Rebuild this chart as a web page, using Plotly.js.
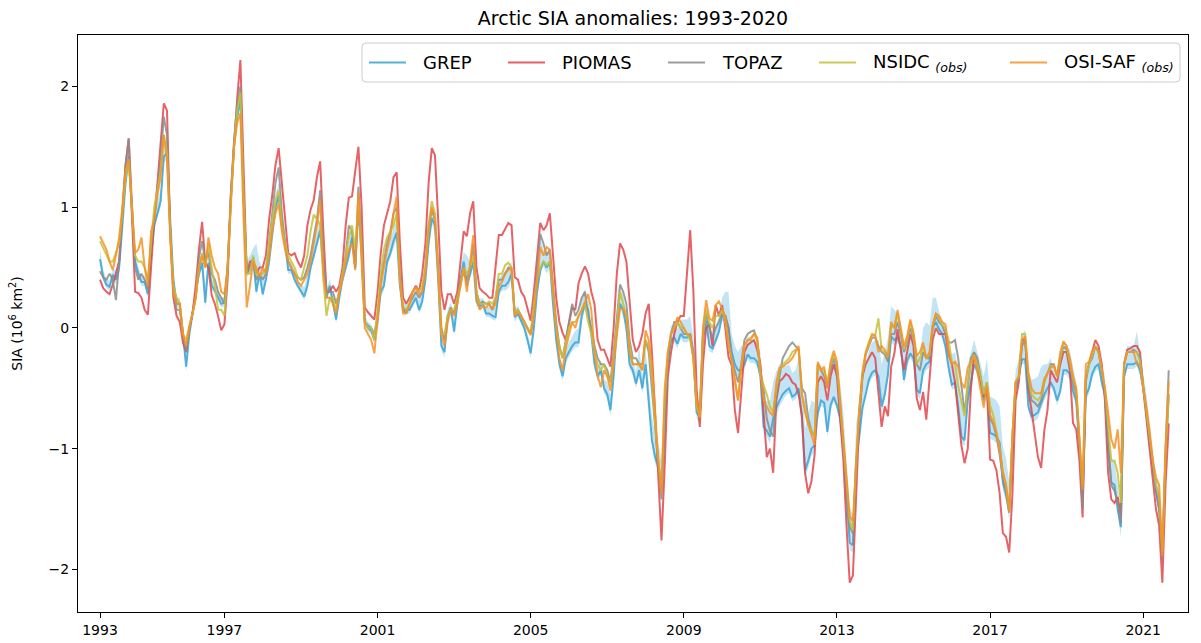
<!DOCTYPE html>
<html>
<head>
<meta charset="utf-8">
<script src="https://cdn.plot.ly/plotly-3.0.1.min.js"></script>
<style>
html,body{margin:0;padding:0;background:#fff;}
#chart{width:1201px;height:643px;}
</style>
</head>
<body>
<div id="chart"></div>
<script>
// Monthly anomalies (10^6 km^2), Jan 1993 .. Dec 2020, one row per year
const START_YEAR = 1993;
const END_YEAR = 2020;

const GREP = [
 .57,.42,.36,.34,.44,.40,.50,.85,1.20,1.42,.95,.55,
 .45,.38,.38,.28,.60,.85,.95,1.05,1.42,1.45,.90,.40,
 .20,.20,-.05,-.32,-.05,.12,.25,.45,.54,.21,.54,.35,
 .31,.25,.20,.21,.50,1.05,1.50,1.75,1.90,1.10,.45,.50,
 .58,.30,.45,.28,.40,.55,.80,1.00,1.10,.85,.70,.48,
 .48,.40,.35,.30,.26,.35,.50,.60,.70,.81,.50,.25,
 .35,.20,.07,.25,.40,.50,.60,.75,.50,1.00,.60,.05,
 .00,-.02,-.10,.05,.30,.35,.55,.62,.72,.79,.35,.15,
 .15,.15,.20,.25,.15,.22,.40,.70,.91,.85,.40,-.15,
 -.20,.10,.15,-.03,.20,.40,.55,.35,.45,.55,.22,.18,
 .20,.12,.12,.10,.09,.30,.35,.35,.38,.45,.09,.12,
 .06,.00,-.10,-.21,.00,.30,.48,.55,.50,.55,.20,-.10,
 -.30,-.40,-.25,-.20,-.15,-.12,-.12,.10,.20,.15,-.05,-.30,
 -.40,-.35,-.50,-.55,-.68,-.40,.00,.20,.15,.00,-.30,-.35,
 -.46,-.35,-.50,-.30,-.60,-.93,-1.07,-1.15,-1.35,-.80,-.30,-.10,
 -.08,-.13,-.05,-.08,-.08,-.05,-.20,-.70,-.74,-.10,.06,-.15,
 -.17,-.10,-.03,.10,.10,.00,-.20,-.30,-.35,-.35,-.30,-.22,
 -.25,-.25,-.28,-.40,-.82,-.85,-.90,-.75,-.66,-.60,-.55,-.52,
 -.50,-.57,-.55,-.50,-.73,-1.18,-1.10,-1.00,-.97,-.70,-.60,-.62,
 -.86,-.64,-.57,-.64,-.75,-1.00,-1.40,-1.78,-1.80,-1.10,-.90,-.66,
 -.55,-.43,-.37,-.35,-.40,-.65,-.55,-.38,-.07,-.10,-.08,-.15,
 -.43,-.27,-.21,-.25,-.51,-.54,-.35,-.30,-.28,.00,.05,-.01,
 -.05,-.15,-.33,-.47,-.45,-.65,-.90,-.93,-.60,-.45,-.30,-.35,
 -.45,-.60,-.50,-.87,-.88,-.90,-.95,-1.28,-1.38,-1.53,-1.00,-.51,
 -.40,-.26,-.26,-.65,-.73,-.72,-.70,-.62,-.55,-.50,-.45,-.50,
 -.60,-.52,-.35,-.35,-.38,-.52,-.60,-1.00,-1.40,-.56,-.50,-.38,
 -.32,-.30,-.45,-.55,-1.00,-1.28,-1.30,-1.50,-1.65,-.40,-.30,-.30,
 -.30,-.28,-.35,-.50,-.70,-.95,-1.15,-1.35,-1.50,-1.90,-1.10,-.55
];

// GREP ensemble spread: distance above / below the GREP mean
const GREP_SPREAD_UP = [
 .08,.06,.05,.05,.05,.08,.10,.10,.10,.08,.08,.06,
 .06,.05,.05,.05,.06,.08,.10,.10,.10,.10,.08,.06,
 .05,.05,.05,.05,.05,.06,.08,.08,.10,.15,.08,.06,
 .06,.05,.05,.05,.08,.10,.15,.10,.08,.08,.10,.10,
 .08,.40,.10,.20,.10,.10,.10,.10,.10,.10,.08,.08,
 .06,.06,.06,.06,.08,.10,.10,.10,.10,.10,.08,.06,
 .06,.06,.06,.06,.06,.08,.10,.10,.12,.10,.08,.06,
 .05,.05,.05,.05,.08,.10,.10,.10,.12,.10,.08,.06,
 .05,.05,.05,.06,.08,.10,.12,.12,.12,.10,.08,.06,
 .06,.06,.06,.10,.08,.10,.08,.25,.10,.10,.08,.06,
 .05,.05,.06,.06,.08,.10,.10,.12,.12,.10,.08,.06,
 .06,.06,.06,.06,.08,.10,.27,.10,.12,.10,.08,.06,
 .06,.08,.08,.08,.08,.10,.12,.15,.12,.10,.08,.06,
 .08,.08,.08,.10,.12,.12,.12,.12,.12,.12,.10,.08,
 .10,.20,.10,.12,.15,.20,.20,.20,.25,.20,.15,.12,
 .10,.12,.12,.15,.15,.15,.12,.12,.12,.15,.15,.12,
 .12,.12,.12,.15,.20,.30,.15,.15,.15,.20,.15,.15,
 .15,.15,.15,.20,.20,.25,.30,.30,.30,.30,.25,.20,
 .20,.20,.20,.25,.30,.35,.40,.40,.35,.35,.30,.25,
 .25,.30,.30,.30,.30,.30,.30,.30,.25,.30,.30,.25,
 .25,.25,.25,.25,.30,.35,.35,.30,.25,.25,.20,.20,
 .20,.20,.20,.25,.30,.30,.35,.35,.30,.25,.20,.15,
 .10,.15,.20,.25,.25,.30,.30,.30,.30,.25,.20,.15,
 .15,.20,.25,.30,.30,.30,.30,.30,.30,.25,.20,.15,
 .15,.20,.25,.30,.30,.30,.30,.30,.25,.20,.20,.15,
 .15,.20,.20,.20,.20,.20,.15,.15,.15,.20,.20,.15,
 .15,.15,.15,.15,.15,.20,.20,.20,.10,.15,.15,.15,
 .15,.25,.15,.15,.15,.15,.15,.15,.15,.15,.15,.15
];
const GREP_SPREAD_DN = [
 .03,.03,.03,.03,.03,.04,.04,.04,.05,.05,.04,.03,
 .03,.03,.03,.03,.04,.04,.04,.05,.05,.05,.04,.03,
 .03,.03,.03,.04,.03,.03,.04,.04,.05,.04,.04,.03,
 .03,.03,.03,.03,.04,.05,.05,.05,.05,.05,.04,.03,
 .03,.03,.03,.03,.04,.04,.04,.05,.05,.04,.04,.03,
 .03,.03,.03,.03,.03,.04,.04,.04,.05,.05,.04,.03,
 .03,.03,.03,.03,.03,.04,.04,.04,.05,.05,.04,.03,
 .03,.03,.03,.03,.04,.04,.04,.04,.05,.05,.04,.03,
 .03,.03,.03,.03,.03,.04,.04,.05,.05,.05,.04,.04,
 .04,.03,.03,.03,.03,.04,.04,.04,.05,.05,.04,.03,
 .03,.03,.03,.03,.03,.04,.04,.04,.05,.05,.04,.03,
 .03,.03,.03,.04,.04,.04,.04,.04,.05,.05,.04,.04,
 .04,.04,.04,.04,.04,.04,.04,.05,.05,.05,.04,.04,
 .04,.04,.04,.04,.05,.05,.05,.05,.05,.05,.04,.04,
 .04,.04,.04,.04,.05,.05,.05,.05,.06,.06,.05,.04,
 .04,.04,.04,.04,.04,.04,.05,.05,.06,.05,.04,.04,
 .04,.04,.04,.04,.04,.05,.05,.05,.06,.05,.04,.04,
 .04,.04,.04,.04,.05,.05,.06,.06,.06,.05,.05,.04,
 .04,.04,.04,.05,.05,.06,.06,.06,.06,.05,.05,.04,
 .04,.04,.04,.04,.05,.05,.06,.06,.06,.05,.05,.04,
 .04,.04,.04,.04,.05,.05,.05,.05,.05,.05,.04,.04,
 .04,.04,.04,.04,.05,.05,.05,.05,.05,.04,.04,.04,
 .04,.04,.04,.04,.05,.05,.05,.05,.05,.05,.04,.04,
 .04,.04,.04,.05,.05,.05,.05,.06,.06,.06,.05,.04,
 .04,.04,.04,.04,.05,.05,.05,.05,.05,.05,.04,.04,
 .04,.04,.04,.04,.05,.05,.05,.05,.06,.05,.04,.04,
 .04,.04,.04,.04,.05,.05,.05,.05,.08,.05,.04,.04,
 .04,.04,.04,.04,.05,.05,.05,.06,.06,.07,.05,.04
];

const PIOMAS = [
 .40,.33,.30,.28,.36,.45,.55,.95,1.35,1.57,1.00,.30,
 .29,.25,.15,.11,.50,.90,1.20,1.50,1.86,1.80,.80,.25,
 .10,.05,-.12,-.20,.00,.12,.35,.65,.88,.54,.50,.27,
 .20,.10,-.02,.03,.40,1.10,1.55,1.90,2.22,1.30,.45,.55,
 .55,.45,.50,.50,.60,.90,1.10,1.35,1.49,1.20,.92,.62,
 .60,.62,.55,.50,.60,.85,.98,1.06,1.25,1.38,.80,.30,
 .30,.35,.30,.35,.50,.85,1.08,1.09,1.30,1.50,1.00,.17,
 .13,.10,.07,.30,.62,.85,.95,1.05,1.25,1.29,.70,.25,
 .20,.25,.30,.35,.30,.45,.70,1.20,1.49,1.43,.90,.30,
 .15,.28,.28,.20,.30,.55,.80,.76,.95,1.05,.50,.33,
 .30,.28,.25,.25,.50,.77,.77,.82,.87,.85,.42,.40,
 .30,.26,.15,.06,.30,.60,.87,.81,.85,.95,.60,.25,
 .05,-.04,-.10,.05,.17,.15,.37,.45,.51,.45,.30,.20,
 -.10,-.18,-.18,-.25,-.32,.00,.45,.70,.65,.55,.20,-.10,
 -.20,-.15,-.05,.12,.20,-.20,-.70,-1.20,-1.76,-1.15,-.40,-.20,
 -.05,.05,.10,.10,.50,.81,.30,-.50,-.82,-.30,.00,.03,
 -.15,.19,.10,.19,.00,-.24,-.31,-.68,-.87,-.50,-.20,-.14,
 -.12,-.10,-.18,-.30,-.70,-1.07,-1.00,-1.20,-.60,-.44,-.42,-.38,
 -.40,-.45,-.47,-.55,-.73,-1.20,-1.37,-1.27,-1.05,-.45,-.40,-.45,
 -.60,-.40,-.30,-.40,-.75,-1.09,-1.64,-2.11,-2.05,-1.37,-.75,-.40,
 -.30,-.25,-.20,-.25,-.54,-.82,-.65,-.73,-.32,-.21,-.01,-.18,
 -.35,-.20,-.05,-.15,-.58,-.68,-.53,-.76,-.39,-.10,.00,-.05,
 -.05,-.05,-.22,-.30,-.45,-.72,-.97,-1.12,-1.00,-.50,-.21,-.30,
 -.45,-.57,-.50,-1.09,-1.10,-1.18,-1.37,-1.70,-1.73,-1.86,-1.38,-.60,
 -.45,-.10,-.10,-.51,-.68,-.90,-1.07,-1.16,-.85,-.68,-.35,-.40,
 -.45,-.30,-.20,-.20,-.35,-.79,-.84,-1.10,-1.57,-.40,-.30,-.19,
 -.10,-.15,-.30,-.60,-1.20,-1.42,-1.45,-1.40,-1.55,-.30,-.18,-.17,
 -.15,-.15,-.20,-.50,-.75,-1.05,-1.30,-1.50,-1.64,-2.11,-1.30,-.79
];

const TOPAZ = [
 .47,.42,.40,.45,.40,.23,.55,.95,1.35,1.57,1.05,.50,
 .40,.45,.40,.32,.70,.90,1.15,1.40,1.75,1.60,.80,.30,
 .15,.15,-.05,-.20,.00,.12,.25,.58,.72,.55,.63,.45,
 .40,.30,.25,.20,.50,1.10,1.55,1.85,2.00,1.10,.45,.50,
 .55,.40,.45,.40,.45,.70,.95,1.20,1.33,.95,.70,.55,
 .50,.45,.42,.40,.42,.50,.60,.75,.90,1.14,.60,.30,
 .30,.30,.20,.30,.45,.60,.85,.80,.50,1.17,.70,.05,
 .02,.00,-.05,.10,.40,.55,.70,.80,.95,1.00,.45,.15,
 .12,.20,.25,.30,.25,.30,.50,.85,.98,.90,.50,.00,
 -.10,.10,.17,.12,.25,.40,.45,.40,.50,.70,.30,.20,
 .22,.20,.20,.15,.25,.40,.40,.45,.50,.48,.12,.15,
 .10,.06,.00,-.05,.15,.50,.78,.70,.60,.65,.35,.05,
 -.15,-.25,-.10,.05,.20,.10,.15,.25,.30,.10,.00,-.15,
 -.25,-.30,-.30,-.35,-.45,-.20,.10,.36,.30,.20,-.10,-.25,
 -.25,-.30,-.30,-.10,-.20,-.50,-.80,-1.15,-1.42,-.80,-.25,-.05,
 .05,.05,.00,-.05,-.05,-.08,-.25,-.65,-.74,-.05,.12,.00,
 -.08,.00,.05,.12,.10,.00,-.26,-.35,-.45,-.30,-.10,-.05,
 -.03,-.02,-.10,-.35,-.50,-.75,-.85,-.90,-.55,-.40,-.25,-.20,
 -.15,-.12,-.15,-.18,-.50,-.54,-.75,-.85,-.90,-.30,-.35,-.40,
 -.50,-.35,-.25,-.35,-.65,-1.00,-1.35,-1.65,-1.70,-1.15,-.70,-.40,
 -.22,-.15,-.08,-.08,-.15,-.20,-.22,-.28,-.05,-.05,.05,-.05,
 -.20,-.12,.00,-.08,-.30,-.35,-.20,-.25,-.25,.00,.10,.05,
 .02,-.05,-.12,-.12,-.10,-.25,-.50,-.70,-.50,-.25,-.20,-.25,
 -.40,-.55,-.45,-.75,-.80,-.90,-1.05,-1.25,-1.35,-1.50,-.90,-.45,
 -.42,-.15,-.10,-.45,-.60,-.62,-.65,-.60,-.45,-.38,-.30,-.30,
 -.40,-.25,-.15,-.18,-.28,-.45,-.55,-.95,-1.50,-.45,-.30,-.25,
 -.15,-.20,-.35,-.55,-.90,-1.30,-1.35,-1.45,-1.62,-.30,-.20,-.20,
 -.18,-.20,-.25,-.50,-.70,-.90,-1.15,-1.35,-1.50,-1.90,-1.00,-.35
];

const NSIDC = [
 .72,.66,.60,.55,.55,.62,.70,.95,1.25,1.38,.98,.60,
 .55,.55,.50,.40,.70,1.00,1.15,1.30,1.60,1.45,.80,.35,
 .25,.20,-.05,-.10,.02,.12,.25,.50,.62,.50,.70,.50,
 .35,.15,.15,.10,.50,1.05,1.50,1.80,1.95,1.10,.45,.45,
 .60,.45,.45,.45,.50,.70,.90,1.05,1.14,.85,.70,.60,
 .55,.50,.42,.40,.50,.60,.80,.94,.90,.85,.40,.10,
 .25,.25,.15,.30,.45,.60,.75,.85,.65,1.05,.65,.05,
 .00,.00,-.10,.15,.45,.65,.75,.80,.85,.95,.40,.18,
 .15,.20,.30,.33,.30,.35,.50,.85,1.05,.95,.50,-.05,
 -.05,.10,.15,.15,.25,.35,.50,.45,.50,.60,.30,.20,
 .20,.20,.22,.20,.25,.45,.45,.52,.54,.50,.12,.15,
 .10,.05,.00,-.05,.20,.40,.50,.55,.52,.55,.30,.00,
 -.15,-.25,-.12,.00,.05,.05,.10,.15,.20,.05,-.05,-.20,
 -.30,-.35,-.30,-.40,-.45,-.25,.05,.30,.20,.10,-.15,-.30,
 -.30,-.30,-.35,-.10,-.15,-.40,-.80,-1.10,-1.30,-.60,-.20,-.05,
 .00,.05,.00,.00,-.05,-.10,-.25,-.65,-.74,-.05,.15,.05,
 .00,.10,.10,.15,.05,-.10,-.28,-.45,-.60,-.33,-.15,-.10,
 -.08,-.05,-.10,-.40,-.47,-.55,-.65,-.70,-.50,-.35,-.30,-.28,
 -.25,-.20,-.18,-.18,-.55,-.65,-.80,-.85,-.90,-.30,-.35,-.35,
 -.45,-.30,-.22,-.30,-.62,-.95,-1.30,-1.60,-1.68,-1.10,-.68,-.38,
 -.22,-.14,-.06,-.06,.08,-.18,-.20,-.24,.02,.00,.12,-.02,
 -.18,-.10,.05,-.06,-.30,-.25,-.15,-.25,-.22,.02,.12,.08,
 .03,.00,-.10,-.28,-.30,-.48,-.60,-.73,-.45,-.30,-.22,-.30,
 -.40,-.55,-.45,-.64,-.72,-.85,-1.00,-1.20,-1.30,-1.50,-.90,-.45,
 -.40,-.05,-.05,-.40,-.55,-.58,-.60,-.56,-.45,-.38,-.32,-.32,
 -.40,-.25,-.12,-.15,-.28,-.42,-.50,-.90,-1.30,-.40,-.30,-.22,
 -.15,-.20,-.35,-.50,-.80,-1.10,-1.10,-1.20,-1.45,-.30,-.20,-.20,
 -.20,-.20,-.28,-.50,-.70,-.90,-1.10,-1.30,-1.40,-1.85,-1.05,-.55
];

const OSISAF = [
 .76,.70,.65,.55,.48,.60,.75,1.00,1.30,1.40,1.00,.62,
 .65,.75,.50,.35,.80,.90,1.10,1.25,1.60,1.40,.75,.30,
 .20,.20,-.05,-.15,.00,.12,.25,.50,.60,.50,.75,.60,
 .50,.45,.30,.28,.50,1.05,1.50,1.70,1.78,.90,.17,.35,
 .55,.50,.42,.50,.45,.60,.80,.95,1.03,.80,.65,.55,
 .50,.45,.38,.35,.40,.45,.55,.70,.85,1.06,.45,.25,
 .25,.20,.12,.30,.40,.55,.65,.70,.48,1.12,.60,.00,
 -.05,-.10,-.21,.05,.35,.50,.65,.75,.95,1.09,.40,.12,
 .12,.20,.30,.33,.28,.30,.45,.80,1.00,.90,.50,-.05,
 -.15,.05,.15,.10,.20,.35,.50,.30,.55,.77,.25,.15,
 .18,.17,.20,.15,.20,.35,.38,.45,.48,.50,.10,.13,
 .10,.05,.00,-.06,.10,.40,.67,.60,.67,.65,.30,.00,
 -.25,-.35,-.17,-.05,.05,.00,.10,.15,.22,.28,.15,-.20,
 -.40,-.49,-.35,-.40,-.52,-.30,-.05,.16,.16,.10,-.20,-.30,
 -.30,-.30,-.35,-.02,-.10,-.30,-.70,-1.10,-1.37,-.50,-.20,-.05,
 .00,.09,.05,.00,-.05,-.05,-.25,-.60,-.74,.00,.23,.08,
 .06,.19,.22,.16,.10,-.14,-.26,-.42,-.60,-.33,-.14,-.10,
 -.10,-.05,-.08,-.35,-.60,-.65,-.70,-.73,-.45,-.33,-.32,-.30,
 -.28,-.25,-.20,-.15,-.55,-.70,-.80,-.88,-.97,-.28,-.35,-.32,
 -.50,-.28,-.19,-.28,-.60,-.95,-1.30,-1.56,-1.60,-1.10,-.68,-.36,
 -.20,-.12,-.05,-.06,-.20,-.15,-.18,-.24,.05,.00,.15,.00,
 -.15,-.07,.07,-.04,-.23,-.20,-.12,-.25,-.20,.02,.12,.10,
 .05,.03,-.20,-.30,-.28,-.32,-.45,-.50,-.33,-.28,-.24,-.36,
 -.50,-.66,-.48,-.72,-.78,-.87,-1.00,-1.19,-1.30,-1.53,-.90,-.45,
 -.40,-.10,-.07,-.37,-.50,-.54,-.54,-.54,-.42,-.38,-.33,-.31,
 -.40,-.20,-.11,-.15,-.25,-.40,-.50,-.92,-1.34,-.30,-.28,-.19,
 -.16,-.20,-.35,-.50,-.70,-.92,-1.00,-.84,-1.20,-.30,-.20,-.20,
 -.20,-.30,-.30,-.50,-.65,-.85,-1.10,-1.24,-1.30,-1.89,-1.00,-.44
];

const SERIES_NAMES = ['GREP', 'PIOMAS', 'TOPAZ', 'NSIDC <sub><i>(obs)</i></sub>', 'OSI-SAF <sub><i>(obs)</i></sub>'];
const SERIES_COLORS = ['#3aa3d4', '#e0464b', '#8c8c8c', '#c3c23a', '#f79226'];
const X_TICK_LABELS = ['1993', '1997', '2001', '2005', '2009', '2013', '2017', '2021'];
const Y_TICKS = [-2, -1, 0, 1, 2];

// ---- geometry helpers (pixel layout of the reference) ----
const W = 1201, H = 643;
const M = {l: 78, r: 13, t: 35, b: 31};
const PW = W - M.l - M.r, PH = H - M.t - M.b;
const px2paperX = p => (p - M.l) / PW;
const py2paperY = p => (H - M.b - p) / PH;

// time axis (decimal years)
const t = [];
for (let y = START_YEAR; y <= END_YEAR; y++) {
  for (let m = 0; m < 12; m++) t.push(y + m / 12);
}
// tick positions as they sit in the reference (first at series start, then every 4 years)
const xTickVals = [1993, 1996.25, 2000.25, 2004.25, 2008.25, 2012.25, 2016.25, 2020.25];

const bandLo = GREP.map((v, i) => v - GREP_SPREAD_DN[i]);
const bandHi = GREP.map((v, i) => v + GREP_SPREAD_UP[i]);

const traces = [
  {x: t, y: bandLo, type: 'scatter', mode: 'lines', line: {width: 0, color: 'rgba(0,0,0,0)'},
   showlegend: false, hoverinfo: 'skip'},
  {x: t, y: bandHi, type: 'scatter', mode: 'lines', line: {width: 0, color: 'rgba(0,0,0,0)'},
   fill: 'tonexty', fillcolor: 'rgba(120,195,230,0.45)', showlegend: false, hoverinfo: 'skip'}
];
[GREP, PIOMAS, TOPAZ, NSIDC, OSISAF].forEach((s, k) => {
  traces.push({
    x: t, y: s, type: 'scatter', mode: 'lines', name: SERIES_NAMES[k], showlegend: false,
    line: {color: SERIES_COLORS[k], width: 2}, opacity: 0.85
  });
});

// ---- matplotlib-like legend (box, handles, labels) ----
const LEG = {x0: 362, x1: 1180, y0: 43, y1: 82, r: 4};
const handleStart = [369, 508, 668, 819, 1010];
const handleLen = 37, textPad = 15;
const legY = (LEG.y0 + LEG.y1) / 2;

const shapes = [];
{
  const X = px2paperX, Y = py2paperY, r = LEG.r;
  const d = `M${X(LEG.x0 + r)},${Y(LEG.y0)} L${X(LEG.x1 - r)},${Y(LEG.y0)} Q${X(LEG.x1)},${Y(LEG.y0)} ${X(LEG.x1)},${Y(LEG.y0 + r)} ` +
            `L${X(LEG.x1)},${Y(LEG.y1 - r)} Q${X(LEG.x1)},${Y(LEG.y1)} ${X(LEG.x1 - r)},${Y(LEG.y1)} ` +
            `L${X(LEG.x0 + r)},${Y(LEG.y1)} Q${X(LEG.x0)},${Y(LEG.y1)} ${X(LEG.x0)},${Y(LEG.y1 - r)} ` +
            `L${X(LEG.x0)},${Y(LEG.y0 + r)} Q${X(LEG.x0)},${Y(LEG.y0)} ${X(LEG.x0 + r)},${Y(LEG.y0)} Z`;
  shapes.push({type: 'path', xref: 'paper', yref: 'paper', path: d, layer: 'above',
               fillcolor: 'rgba(255,255,255,0.8)', line: {color: '#cccccc', width: 1}});
}
const annotations = [];
SERIES_NAMES.forEach((name, k) => {
  shapes.push({type: 'line', xref: 'paper', yref: 'paper', layer: 'above',
    x0: px2paperX(handleStart[k]), x1: px2paperX(handleStart[k] + handleLen),
    y0: py2paperY(legY), y1: py2paperY(legY),
    line: {color: SERIES_COLORS[k], width: 2}, opacity: 0.85});
  annotations.push({xref: 'paper', yref: 'paper', x: px2paperX(handleStart[k] + handleLen + textPad),
    y: py2paperY(legY), xanchor: 'left', yanchor: 'middle', showarrow: false,
    text: name, font: {size: 18, color: '#000'}});
});

const layout = {
  width: W, height: H,
  margin: M,
  paper_bgcolor: '#fff', plot_bgcolor: '#fff',
  font: {family: 'DejaVu Sans, sans-serif', size: 14, color: '#000'},
  title: {text: 'Arctic SIA anomalies: 1993-2020', font: {size: 19, color: '#000'},
          x: 0.5, xref: 'paper', xanchor: 'center', y: 1 - 18 / H, yref: 'container', yanchor: 'middle'},
  xaxis: {
    range: [1992.425, 2021.42], tickvals: xTickVals, ticktext: X_TICK_LABELS,
    showgrid: false, zeroline: false, showline: true, mirror: true, linecolor: '#000', linewidth: 1,
    ticks: 'outside', ticklen: 5, tickcolor: '#000', tickfont: {size: 14}
  },
  yaxis: {
    range: [-2.353, 2.427], tickvals: Y_TICKS, ticktext: Y_TICKS.map(v => v < 0 ? '\u2212' + Math.abs(v) : String(v)),
    showgrid: false, zeroline: false, showline: true, mirror: true, linecolor: '#000', linewidth: 1,
    ticks: 'outside', ticklen: 5, tickcolor: '#000', tickfont: {size: 14},
    title: {text: 'SIA (10<sup>6</sup> km<sup>2</sup>)', font: {size: 14}, standoff: 22}
  },
  shapes: shapes,
  annotations: annotations,
  showlegend: false
};

Plotly.newPlot('chart', traces, layout, {displayModeBar: false, staticPlot: true});
</script>
</body>
</html>
